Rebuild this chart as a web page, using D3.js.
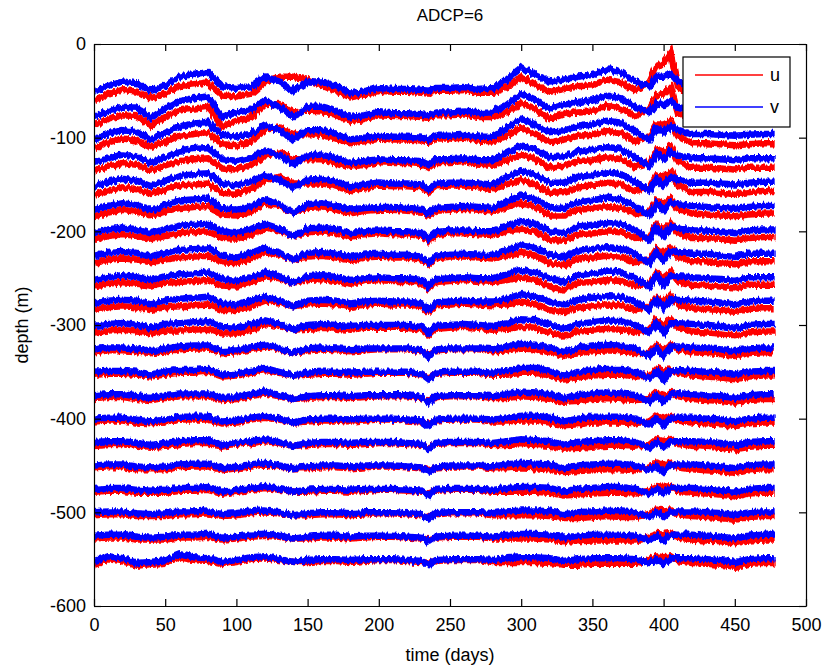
<!DOCTYPE html>
<html>
<head>
<meta charset="utf-8">
<script src="https://cdn.jsdelivr.net/npm/d3@7"></script>
<style>
  body { margin: 0; background: #fff; }
  text { font-family: "Liberation Sans", Arial, sans-serif; }
</style>
</head>
<body>
<svg id="chart" width="827" height="671"></svg>
<script>
// sample times (days) for every series
const days = [0,10,20,30,40,50,60,70,80,90,
  100,110,120,130,140,150,160,170,180,190,
  200,210,220,230,235,240,250,260,270,280,
  290,300,310,320,330,340,350,360,370,380,
  390,395,400,405,410,420,430,440,450,460,
  470,478];

// nominal depth of each ADCP bin (m)
const depths = [-50,-75,-100,-125,-150,-175,-200,-225,-250,-275,-300,
  -325,-350,-375,-400,-425,-450,-475,-500,-525,-550];

// v (blue) offsets from the nominal depth, one row per bin
const vOffsets = [
  [-1,5,10,8,0,6,15,18,20,5, 3,5,15,10,0,10,10,5,-3,0, 3,2,2,1,0,3,3,4,2,3, 12,25,17,10,12,15,17,23,20,10, 5,15,15,18,10,5,5,5,3,5, 5,5],
  [-3,4,8,7,-4,6,14,17,19,-3, 2,4,15,8,-3,8,8,4,-3,-1, 2,1,1,0,-1,2,2,3,1,2, 10,22,15,6,10,13,15,20,17,8, 2,12,10,14,8,4,4,4,2,4, 4,4],
  [-2,4,8,6,-2,5,12,15,17,3, 1,4,13,8,-2,8,8,4,-2,0, 2,1,1,0,-2,2,2,3,1,1, 10,20,14,6,8,12,14,18,16,6, -2,10,6,12,8,4,4,3,2,3, 4,4],
  [-2,3,7,5,-2,4,10,13,14,2, 0,3,11,6,-3,6,7,3,-2,0, 2,1,1,0,-4,2,2,3,1,1, 9,17,12,4,5,10,12,15,13,4, -5,8,2,10,6,3,3,2,1,3, 3,3],
  [-2,3,6,4,-2,4,9,11,12,1, -1,3,10,5,-4,5,6,3,-2,0, 2,1,1,0,-5,1,2,2,1,0, 8,15,10,2,2,8,10,13,11,3, -7,6,-1,8,5,2,2,1,0,2, 3,3],
  [-2,2,5,3,-2,3,8,9,10,0, -2,2,9,4,-5,4,5,2,-2,0, 1,1,0,-1,-6,0,1,2,1,0, 7,13,9,1,0,6,8,11,9,2, -8,5,-3,6,4,2,1,0,-1,1, 2,2],
  [-2,2,4,2,-2,2,6,7,8,0, -2,2,8,3,-5,3,4,2,-2,0, 1,0,0,-2,-8,-1,1,1,0,0, 6,11,8,0,-2,5,7,9,8,1, -9,4,-5,5,3,1,1,0,-2,1, 2,2],
  [-2,2,3,2,-2,2,5,6,7,-1, -3,2,7,2,-5,2,3,1,-2,0, 1,0,0,-2,-9,-1,1,1,0,0, 5,10,7,0,-3,4,6,8,7,0, -9,3,-6,4,3,1,1,-1,-2,1, 1,1],
  [-2,1,3,1,-2,2,4,5,6,-1, -3,1,6,2,-5,2,3,1,-2,0, 1,0,0,-2,-9,-1,0,1,0,0, 4,9,6,0,-4,3,5,7,6,0, -9,3,-7,3,2,1,0,-1,-3,1, 1,1],
  [-2,1,2,1,-3,1,3,4,5,-2, -3,1,5,1,-5,1,2,1,-2,0, 1,0,0,-2,-9,-1,0,1,0,0, 3,8,5,0,-4,2,4,6,5,0, -9,2,-8,3,2,1,0,-1,-3,0, 1,1],
  [-1,1,2,0,-3,1,2,3,4,-2, -3,1,5,1,-5,0,1,0,-1,0, 0,0,0,-2,-9,-1,0,1,0,-1, 2,6,5,1,-4,1,3,5,4,0, -8,2,-8,2,2,1,0,-1,-3,0, 1,1],
  [-1,1,1,0,-3,0,2,3,3,-3, -2,1,4,0,-5,0,1,0,-1,0, 0,0,0,-2,-9,-1,0,0,0,-1, 2,5,4,1,-4,1,3,4,3,0, -8,1,-8,2,2,1,0,-1,-3,0, 1,1],
  [0,1,1,0,-3,0,2,2,3,-3, -2,1,4,0,-4,-1,0,0,-1,0, 0,0,0,-2,-8,-1,0,0,0,-1, 1,4,4,1,-4,0,2,3,3,0, -7,1,-8,1,2,1,0,-1,-3,0, 1,1],
  [0,1,1,-1,-3,0,2,2,2,-3, -2,1,4,0,-4,-1,0,0,-1,0, 0,0,0,-2,-8,-1,0,0,0,-1, 1,4,3,1,-3,0,2,3,2,0, -7,0,-7,1,2,1,0,-1,-3,0, 1,1],
  [0,1,1,-1,-3,-1,2,2,2,-3, -2,1,3,0,-4,-1,0,0,-1,0, 0,0,-1,-2,-8,-1,0,0,0,-1, 1,3,3,1,-3,0,2,2,2,0, -6,0,-7,1,1,1,0,-1,-3,0, 1,1],
  [0,1,1,-1,-3,-1,1,2,2,-3, -1,1,3,0,-4,-1,0,0,-1,0, 0,0,-1,-2,-8,-1,0,0,0,-1, 1,3,2,1,-3,0,1,2,2,0, -6,0,-6,1,1,1,0,-1,-3,0, 1,1],
  [0,1,1,-1,-2,-1,1,2,2,-3, -1,1,3,0,-3,-1,0,0,-1,0, 0,0,-1,-2,-7,-1,0,0,0,-1, 1,3,2,1,-3,0,1,2,2,0, -5,0,-6,1,1,1,0,-1,-3,0, 1,1],
  [0,1,1,-1,-2,-1,1,1,2,-3, -1,1,3,0,-3,-1,0,0,-1,0, 0,0,-1,-2,-7,-1,0,0,0,-1, 1,2,2,1,-3,0,1,2,2,0, -5,0,-5,1,1,1,0,-1,-3,0, 1,1],
  [0,1,1,-1,-2,-1,1,1,2,-2, -1,1,2,0,-3,-1,0,0,-1,0, 0,0,-1,-2,-7,-1,0,0,0,-1, 1,2,2,1,-2,0,1,2,1,0, -5,0,-5,1,1,1,0,-1,-3,0, 1,1],
  [0,1,1,-1,-2,-1,1,1,2,-2, -1,1,2,0,-3,-1,0,0,-1,0, 0,0,-1,-2,-6,-1,0,0,0,-1, 1,2,2,1,-2,0,1,1,1,0, -5,0,-5,1,1,1,0,-1,-3,0, 1,1],
  [-2,3,1,-4,-3,-1,5,2,1,-3, -1,2,3,0,-3,-1,0,0,-1,0, 0,0,-1,-2,-6,-1,0,0,0,-1, 1,2,2,1,-2,0,1,1,1,0, -4,0,-5,1,1,1,0,-1,-3,0, 1,1]
];

// u (red) offsets from the nominal depth
const uOffsets = [
  [-10,-4,1,-1,-8,-3,5,7,9,-5, -6,-3,10,15,15,12,6,0,-7,-4, 0,-1,-1,-2,-3,0,0,1,-2,-2, 4,15,7,-1,2,5,6,12,9,0, 9,25,30,40,4,-5,-5,-5,-7,-5, -5,-5],
  [-12,-5,-1,-2,-12,-3,4,6,8,-13, -7,-4,10,11,2,4,3,-1,-7,-5, -1,-2,-2,-3,-4,-1,-1,0,-3,-3, 2,12,5,-5,0,3,4,9,6,-2, 6,20,22,29,2,-6,-6,-6,-8,-6, -6,-6],
  [-11,-5,-1,-3,-10,-4,2,4,6,-7, -8,-4,8,11,3,4,3,-1,-6,-4, -1,-2,-2,-3,-5,-1,-1,0,-3,-4, 2,10,4,-5,-2,2,3,7,5,-4, 2,14,14,18,2,-6,-6,-7,-8,-7, -6,-6],
  [-11,-6,-2,-4,-10,-5,0,2,3,-8, -9,-5,6,9,2,2,2,-2,-6,-4, -1,-2,-2,-3,-7,-1,-1,0,-3,-4, 1,7,2,-7,-5,0,1,4,2,-6, -1,12,10,16,0,-7,-7,-8,-9,-7, -7,-7],
  [-11,-6,-3,-5,-10,-5,-1,0,1,-9, -10,-5,5,8,1,1,1,-2,-6,-4, -1,-2,-2,-3,-8,-2,-1,-1,-3,-5, 0,5,0,-9,-8,-2,-1,2,0,-7, -3,10,7,14,-1,-8,-8,-9,-10,-8, -7,-7],
  [-9,-5,-2,-4,-8,-4,0,1,2,-7, -8,-4,5,2,-5,0,1,-2,-6,-3, -2,-2,-3,-4,-8,-3,-2,-1,-2,-4, 1,5,1,-8,-8,-2,-1,2,0,-6, -5,8,4,10,-1,-6,-7,-8,-9,-7, -6,-6],
  [-9,-5,-3,-5,-8,-5,-2,-1,0,-7, -8,-4,4,1,-5,-1,0,-2,-6,-3, -2,-3,-3,-5,-10,-4,-2,-2,-3,-4, 0,3,0,-9,-10,-3,-2,0,-1,-7, -6,7,2,9,-2,-7,-7,-8,-10,-7, -6,-6],
  [-9,-5,-4,-5,-8,-5,-3,-2,-1,-8, -9,-4,3,0,-5,-2,-1,-3,-6,-3, -2,-3,-3,-5,-11,-4,-2,-2,-3,-4, -1,2,-1,-9,-11,-4,-3,-1,-2,-8, -6,6,1,8,-2,-7,-7,-9,-10,-7, -7,-7],
  [-9,-6,-4,-6,-8,-5,-4,-3,-2,-8, -9,-5,2,0,-5,-2,-1,-3,-6,-3, -2,-3,-3,-5,-11,-4,-3,-2,-3,-4, -2,1,-2,-9,-12,-5,-4,-2,-3,-8, -6,6,0,7,-3,-7,-8,-9,-11,-7, -7,-7],
  [-9,-6,-5,-6,-9,-6,-5,-4,-3,-9, -9,-5,1,-1,-5,-3,-2,-3,-6,-3, -2,-3,-3,-5,-11,-4,-3,-2,-3,-4, -3,0,-3,-9,-12,-6,-5,-3,-4,-8, -6,5,-1,7,-3,-7,-8,-9,-11,-8, -7,-7],
  [-8,-6,-5,-7,-9,-6,-6,-5,-4,-9, -9,-5,1,-1,-5,-4,-3,-4,-5,-3, -3,-3,-3,-5,-11,-4,-3,-2,-3,-5, -4,-2,-3,-8,-12,-7,-6,-4,-5,-8, -5,5,-1,6,-3,-7,-8,-9,-11,-8, -7,-7],
  [-4,-2,-2,-3,-5,-3,-1,0,0,-5, -4,-1,2,-1,-5,-2,-1,-2,-3,-2, -1,-1,-1,-3,-7,-2,-1,-1,-1,-3, -2,0,-1,-4,-8,-5,-3,-2,-3,-5, -5,4,-1,4,-1,-4,-5,-6,-8,-5, -4,-4],
  [-3,-2,-2,-3,-5,-3,-1,-1,0,-5, -4,-1,2,-1,-4,-3,-2,-2,-3,-2, -1,-1,-1,-3,-6,-2,-1,-1,-1,-3, -3,-1,-1,-4,-8,-6,-4,-3,-3,-5, -4,4,-1,3,-1,-4,-5,-6,-8,-5, -4,-4],
  [-3,-2,-2,-4,-5,-3,-1,-1,-1,-5, -4,-1,2,-1,-4,-3,-2,-2,-3,-2, -1,-1,-1,-3,-6,-2,-1,-1,-1,-3, -3,-1,-2,-4,-7,-6,-4,-3,-4,-5, -4,3,0,3,-1,-4,-5,-6,-8,-5, -4,-4],
  [-3,-2,-2,-4,-5,-4,-1,-1,-1,-5, -4,-1,1,-1,-4,-3,-2,-2,-3,-2, -1,-1,-2,-3,-6,-2,-1,-1,-1,-3, -3,-2,-2,-4,-7,-6,-4,-4,-4,-5, -3,3,0,3,-2,-4,-5,-6,-8,-5, -4,-4],
  [-3,-2,-2,-4,-5,-4,-2,-1,-1,-5, -3,-1,1,-1,-4,-3,-2,-2,-3,-2, -1,-1,-2,-3,-6,-2,-1,-1,-1,-3, -3,-2,-3,-4,-7,-6,-5,-4,-4,-5, -3,3,1,3,-2,-4,-5,-6,-8,-5, -4,-4],
  [-3,-2,-2,-4,-4,-4,-2,-1,-1,-5, -3,-1,1,-1,-3,-3,-2,-2,-3,-2, -1,-1,-2,-3,-5,-2,-1,-1,-1,-3, -3,-2,-3,-4,-7,-6,-5,-4,-4,-5, -2,3,1,3,-2,-4,-5,-6,-8,-5, -4,-4],
  [-3,-2,-2,-4,-4,-4,-2,-2,-1,-5, -3,-1,1,-1,-3,-3,-2,-2,-3,-2, -1,-1,-2,-3,-5,-2,-1,-1,-1,-3, -3,-3,-3,-4,-7,-6,-5,-4,-4,-5, -2,3,2,3,-2,-4,-5,-6,-8,-5, -4,-4],
  [-3,-2,-2,-4,-4,-4,-2,-2,-1,-4, -3,-1,0,-1,-3,-3,-2,-2,-3,-2, -1,-1,-2,-3,-5,-2,-1,-1,-1,-3, -3,-3,-3,-4,-6,-6,-5,-4,-5,-5, -2,3,2,3,-2,-4,-5,-6,-8,-5, -4,-4],
  [-3,-2,-2,-4,-4,-4,-2,-2,-1,-4, -3,-1,0,-1,-3,-3,-2,-2,-3,-2, -1,-1,-2,-3,-4,-2,-1,-1,-1,-3, -3,-3,-3,-4,-6,-6,-5,-5,-5,-5, -2,3,2,3,-2,-4,-5,-6,-8,-5, -4,-4],
  [-5,0,-2,-7,-5,-4,2,-1,-2,-5, -3,0,1,-1,-3,-3,-2,-2,-3,-2, -1,-1,-2,-3,-4,-2,-1,-1,-1,-3, -3,-3,-3,-4,-6,-6,-5,-5,-5,-5, -1,3,2,3,-2,-4,-5,-6,-8,-5, -4,-4]
];

const xTicks = [0,50,100,150,200,250,300,350,400,450,500];
const yTicks = [-600,-500,-400,-300,-200,-100,0];

[vOffsets, uOffsets].forEach(function (rows) {
  rows.forEach(function (r, i) {
    if (r.length !== days.length) throw new Error("row " + i + " has " + r.length + " values");
  });
});

var svg = d3.select("#chart"),
    plotLeft = 94, plotRight = 806, plotTop = 44, plotBottom = 606,
    lineWidth = 6.5;

var x = d3.scaleLinear().domain([0, 500]).range([plotLeft, plotRight]);
var y = d3.scaleLinear().domain([-600, 0]).range([plotBottom, plotTop]);

var defs = svg.append("defs");
defs.append("clipPath").attr("id", "plotArea")
  .append("rect")
  .attr("x", plotLeft).attr("y", plotTop)
  .attr("width", plotRight - plotLeft).attr("height", plotBottom - plotTop);

// rough edge so the thick traces look like the sampled record, not smooth ribbons
var rough = defs.append("filter").attr("id", "rough")
  .attr("x", "-2%").attr("y", "-5%").attr("width", "104%").attr("height", "110%");
rough.append("feTurbulence")
  .attr("type", "fractalNoise").attr("baseFrequency", "0.4 0.05")
  .attr("numOctaves", 2).attr("seed", 4).attr("result", "noise");
rough.append("feDisplacementMap")
  .attr("in", "SourceGraphic").attr("in2", "noise")
  .attr("scale", 6).attr("xChannelSelector", "B").attr("yChannelSelector", "R");

var line = d3.line()
  .x(function (d) { return x(d[0]); })
  .y(function (d) { return y(d[1]); });

function series(offsets) {
  return offsets.map(function (row, i) {
    return row.map(function (o, j) { return [days[j], depths[i] + o]; });
  });
}

var plot = svg.append("g").attr("clip-path", "url(#plotArea)");

// all u first, v drawn over it
plot.append("g").attr("filter", "url(#rough)")
  .selectAll("path")
  .data(series(uOffsets))
  .enter().append("path")
  .attr("d", line)
  .attr("fill", "none")
  .attr("stroke", "#ff0000")
  .attr("stroke-width", lineWidth);

plot.append("g").attr("filter", "url(#rough)")
  .selectAll("path")
  .data(series(vOffsets))
  .enter().append("path")
  .attr("d", line)
  .attr("fill", "none")
  .attr("stroke", "#0000ff")
  .attr("stroke-width", lineWidth);

// axes with inward ticks (all four sides)
var tickLen = 7;
var fontSize = "18px";

var gx = svg.append("g").attr("transform", "translate(0," + plotBottom + ")")
  .call(d3.axisBottom(x).tickValues(xTicks).tickSizeInner(-tickLen).tickSizeOuter(0)
    .tickPadding(12).tickFormat(function (d) { return String(d); }));
var gy = svg.append("g").attr("transform", "translate(" + plotLeft + ",0)")
  .call(d3.axisLeft(y).tickValues(yTicks).tickSizeInner(-tickLen).tickSizeOuter(0)
    .tickPadding(8).tickFormat(function (d) { return String(d); }));
var gt = svg.append("g").attr("transform", "translate(0," + plotTop + ")")
  .call(d3.axisTop(x).tickValues(xTicks).tickSizeInner(-tickLen).tickSizeOuter(0).tickFormat(""));
var gr = svg.append("g").attr("transform", "translate(" + plotRight + ",0)")
  .call(d3.axisRight(y).tickValues(yTicks).tickSizeInner(-tickLen).tickSizeOuter(0).tickFormat(""));

[gx, gy, gt, gr].forEach(function (g) {
  g.selectAll("path.domain").attr("stroke", "#000").attr("stroke-width", 1.2);
  g.selectAll(".tick line").attr("stroke", "#000").attr("stroke-width", 1.2);
  g.selectAll(".tick text").attr("fill", "#000")
    .style("font-size", fontSize)
    .style("font-family", '"Liberation Sans", Arial, sans-serif');
});

// title and axis labels
svg.append("text")
  .attr("x", (plotLeft + plotRight) / 2).attr("y", 21)
  .attr("text-anchor", "middle")
  .style("font-size", "17px")
  .text("ADCP=6");

svg.append("text")
  .attr("x", (plotLeft + plotRight) / 2).attr("y", 661)
  .attr("text-anchor", "middle")
  .style("font-size", "18px")
  .text("time (days)");

svg.append("text")
  .attr("transform", "translate(28," + ((plotTop + plotBottom) / 2) + ") rotate(-90)")
  .attr("text-anchor", "middle")
  .style("font-size", "18px")
  .text("depth (m)");

// legend
var legend = svg.append("g");
legend.append("rect")
  .attr("x", 683).attr("y", 57).attr("width", 107).attr("height", 70)
  .attr("fill", "#fff").attr("stroke", "#000").attr("stroke-width", 1.2);

var legendItems = [["u", "#ff0000", 75], ["v", "#0000ff", 107]];
legendItems.forEach(function (it) {
  legend.append("line")
    .attr("x1", 695).attr("x2", 763).attr("y1", it[2]).attr("y2", it[2])
    .attr("stroke", it[1]).attr("stroke-width", 1.5);
  legend.append("text")
    .attr("x", 770).attr("y", it[2] + 6)
    .style("font-size", "18px")
    .text(it[0]);
});
</script>
</body>
</html>
